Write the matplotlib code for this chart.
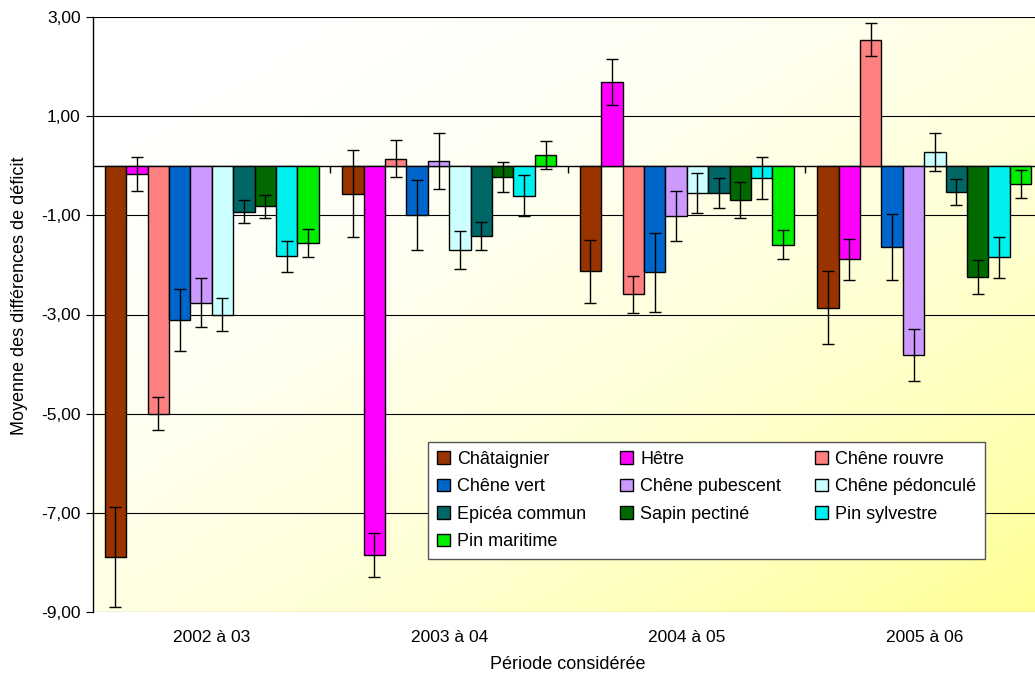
import numpy as np
import matplotlib
matplotlib.use('Agg')
import matplotlib.pyplot as plt
from matplotlib.ticker import FuncFormatter

plt.rcParams['font.family'] = ['Liberation Sans', 'DejaVu Sans']

periods = ['2002 à 03', '2003 à 04', '2004 à 05', '2005 à 06']
species = ['Châtaignier', 'Hêtre', 'Chêne rouvre', 'Chêne vert', 'Chêne pubescent',
           'Chêne pédonculé', 'Epicéa commun', 'Sapin pectiné', 'Pin sylvestre', 'Pin maritime']
colors = ['#993300', '#FF00FF', '#FF8080', '#0066CC', '#CC99FF',
          '#CCFFFF', '#006666', '#006A00', '#00F0F0', '#00EE00']

# mean difference per species, one value per period
means = [
    [-7.89, -0.56, -2.13, -2.86],
    [-0.16, -7.85, 1.69, -1.89],
    [-5.00, 0.14, -2.59, 2.54],
    [-3.11, -0.99, -2.15, -1.64],
    [-2.76, 0.10, -1.01, -3.82],
    [-3.00, -1.70, -0.55, 0.28],
    [-0.93, -1.42, -0.55, -0.53],
    [-0.82, -0.22, -0.69, -2.24],
    [-1.83, -0.60, -0.25, -1.85],
    [-1.56, 0.22, -1.59, -0.37],
]
errors = [
    [1.00, 0.88, 0.63, 0.73],
    [0.34, 0.45, 0.46, 0.42],
    [0.33, 0.37, 0.37, 0.33],
    [0.63, 0.71, 0.79, 0.66],
    [0.49, 0.56, 0.51, 0.53],
    [0.33, 0.38, 0.40, 0.38],
    [0.23, 0.28, 0.30, 0.27],
    [0.24, 0.30, 0.37, 0.34],
    [0.31, 0.41, 0.42, 0.41],
    [0.29, 0.28, 0.30, 0.28],
]

fig = plt.figure(figsize=(10.35, 6.74), dpi=100)
# plot area runs slightly past the right edge of the picture, as in the original
ax = fig.add_axes([93 / 1035, 62 / 674, 950 / 1035, 595 / 674])

# background gradient: white top-left to pale yellow bottom-right
gx, gy = np.meshgrid(np.linspace(0, 1, 300), np.linspace(0, 1, 300))
t = np.clip((gx + gy) / 2, 0, 1) ** 2
img = np.ones((300, 300, 3))
img[..., 2] = 1.0 - t * 0.42
ax.imshow(img, extent=[0, 1, 0, 1], transform=ax.transAxes, aspect='auto',
          origin='upper', zorder=0)

n = len(species)
width = 1.0 / (n + 1.1)
x = np.arange(len(periods))
handles = []
for i in range(n):
    pos = x - (n - 1) / 2 * width + i * width
    b = ax.bar(pos, means[i], width, color=colors[i], edgecolor='black', linewidth=1.0,
               label=species[i], zorder=3)
    handles.append(b)
    ax.errorbar(pos, means[i], yerr=errors[i], fmt='none', ecolor='black',
                elinewidth=1.0, capsize=4.3, capthick=1.0, zorder=4)

ax.set_xlim(-0.5, 3.5)
ax.set_ylim(-9, 3)
ax.set_yticks([-9, -7, -5, -3, -1, 1, 3])
ax.yaxis.set_major_formatter(FuncFormatter(lambda v, p: ('%.2f' % v).replace('.', ',')))
ax.grid(axis='y', color='black', linewidth=0.8, zorder=1)
ax.axhline(0, color='black', linewidth=1.0, zorder=2)
ax.vlines([0.5, 1.5, 2.5], -0.15, 0, color='black', linewidth=1.0, zorder=2)

ax.set_xticks(x)
ax.set_xticklabels(periods, fontsize=12.5)
ax.tick_params(axis='x', length=0, pad=13)
ax.tick_params(axis='y', labelsize=12.5, length=5, direction='out', pad=4)
for s in ['top', 'right', 'bottom']:
    ax.spines[s].set_visible(False)
ax.spines['left'].set_linewidth(1.0)

ax.set_ylabel('Moyenne des différences de déficit', fontsize=13)
ax.yaxis.set_label_coords(-0.068, 0.531)
ax.set_xlabel('Période considérée', fontsize=13, labelpad=8)

# legend filled row by row as in the original
order = [0, 3, 6, 9, 1, 4, 7, 2, 5, 8]
leg = ax.legend([handles[k] for k in order], [species[k] for k in order],
                ncol=3, loc='upper left', bbox_to_anchor=(335 / 950, 0.286),
                borderaxespad=0, fontsize=13, frameon=True, fancybox=False,
                edgecolor='#555555', handlelength=0.7, handleheight=0.7,
                handletextpad=0.4, columnspacing=1.9, labelspacing=0.58, borderpad=0.5)
leg.get_frame().set_linewidth(1.0)
leg.get_frame().set_alpha(1)
leg.set_zorder(5)

fig.savefig('out.png', dpi=100)
